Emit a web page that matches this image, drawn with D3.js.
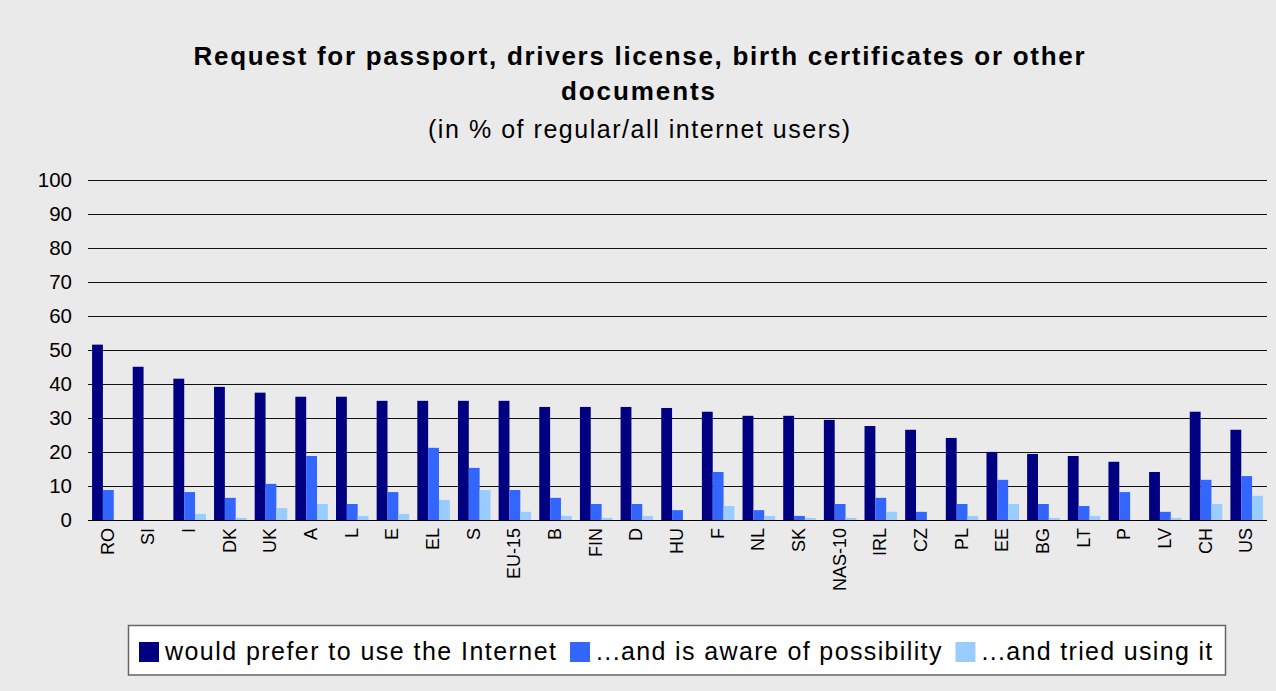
<!DOCTYPE html>
<html>
<head>
<meta charset="utf-8">
<script src="https://cdn.jsdelivr.net/npm/d3@7"></script>
<style>
html,body{margin:0;padding:0;background:#EAEAEA;}
svg{display:block;font-family:"Liberation Sans",Arial,sans-serif;}
</style>
</head>
<body>
<svg id="chart" width="1276" height="691"></svg>
<script>
const categories = ["RO","SI","I","DK","UK","A","L","E","EL","S","EU-15","B","FIN","D","HU","F","NL","SK","NAS-10","IRL","CZ","PL","EE","BG","LT","P","LV","CH","US"];
const prefer = [51.5,45.0,41.5,39.1,37.4,36.2,36.2,35.0,35.0,35.0,35.0,33.2,33.2,33.2,32.9,31.8,30.6,30.6,29.4,27.6,26.5,24.1,20.0,19.4,18.8,17.1,14.1,31.8,26.5];
const aware = [8.8,0,8.2,6.5,10.6,18.8,4.7,8.2,21.2,15.3,8.8,6.5,4.7,4.7,2.9,14.1,2.9,1.2,4.7,6.5,2.4,4.7,11.8,4.7,4.1,8.2,2.4,11.8,12.9];
const tried = [0,0,1.8,0.6,3.5,4.7,1.2,1.8,5.9,8.8,2.4,1.2,0.6,1.2,0,4.1,1.2,0.6,0.6,2.4,0,1.2,4.7,0.6,1.2,0,0.6,4.7,7.1];
const seriesNames = ["would prefer to use the Internet","...and is aware of possibility","...and tried using it"];
const seriesColors = ["#000080","#3366FF","#99CCFF"];
const yTicks = [0,10,20,30,40,50,60,70,80,90,100];
const titleLines = ["Request for passport, drivers license, birth certificates or other","documents"];
const subtitle = "(in % of regular/all internet users)";

(function(){
const svg = d3.select("#chart");
svg.append("rect").attr("width",1276).attr("height",691).attr("fill","#EAEAEA");

const pLeft = 88, pRight = 1267, pTop = 179.5, pBottom = 520;
const x0 = d3.scaleBand().domain(categories).range([pLeft,pRight]).paddingInner(0).paddingOuter(0);
const groupW = x0.bandwidth()*0.8;
const x1 = d3.scaleBand().domain([0,1,2]).range([0,groupW]).padding(0);
const y = d3.scaleLinear().domain([0,100]).range([pBottom,pTop]);

// gridlines
svg.append("g").selectAll("line").data(yTicks).join("line")
  .attr("x1",pLeft).attr("x2",pRight)
  .attr("y1",d=>Math.round(y(d))+0.5).attr("y2",d=>Math.round(y(d))+0.5)
  .attr("stroke","#111").attr("stroke-width",1);

// y tick labels
svg.append("g").selectAll("text").data(yTicks).join("text")
  .attr("x",72).attr("y",d=>y(d)).attr("dy","0.36em")
  .attr("text-anchor","end").attr("font-size",20.5).attr("fill","#000")
  .text(d=>d);

// bars
const series = [prefer,aware,tried];
const groups = svg.append("g").selectAll("g").data(categories).join("g")
  .attr("transform",c=>`translate(${x0(c)+(x0.bandwidth()-groupW)/2},0)`);
groups.selectAll("rect").data((c,i)=>series.map((s,k)=>({k,v:s[i]}))).join("rect")
  .attr("x",d=>x1(d.k)).attr("width",x1.bandwidth())
  .attr("y",d=>y(d.v)).attr("height",d=>y(0)-y(d.v))
  .attr("fill",d=>seriesColors[d.k]);

// x axis line
svg.append("line").attr("x1",pLeft).attr("x2",pRight)
  .attr("y1",Math.round(y(0))+0.5).attr("y2",Math.round(y(0))+0.5)
  .attr("stroke","#000").attr("stroke-width",1.2);

// x labels
svg.append("g").selectAll("text").data(categories).join("text")
  .attr("transform",c=>`translate(${x0(c)+x0.bandwidth()/2+5.5},528) rotate(-90)`)
  .attr("text-anchor","end").attr("font-size",18).attr("fill","#000")
  .text(c=>c);

// title
const tl = svg.append("g");
tl.append("text").attr("x",639).attr("y",65).attr("text-anchor","middle")
  .attr("font-size",26).attr("font-weight","bold").attr("textLength",891).attr("lengthAdjust","spacing")
  .text(titleLines[0]);
tl.append("text").attr("x",638).attr("y",100).attr("text-anchor","middle")
  .attr("font-size",26).attr("font-weight","bold").attr("textLength",154).attr("lengthAdjust","spacing")
  .text(titleLines[1]);
tl.append("text").attr("x",639).attr("y",138).attr("text-anchor","middle")
  .attr("font-size",25).attr("textLength",422).attr("lengthAdjust","spacing")
  .text(subtitle);

// legend
const lg = svg.append("g");
lg.append("rect").attr("x",128.5).attr("y",625.5).attr("width",1097).attr("height",49.5)
  .attr("fill","#fff").attr("stroke","#666").attr("stroke-width",1.5);
let cx = 139;
seriesNames.forEach((name,k)=>{
  lg.append("rect").attr("x",cx).attr("y",642).attr("width",20).attr("height",20).attr("fill",seriesColors[k]);
  const t = lg.append("text").attr("x",cx+26).attr("y",660).attr("font-size",25).attr("fill","#000").text(name);
  const w = t.node().getComputedTextLength()*(22/25)*1.284;
  t.attr("textLength",w).attr("lengthAdjust","spacing");
  cx = cx + 26 + w + 14;
});
})();
</script>
</body>
</html>
